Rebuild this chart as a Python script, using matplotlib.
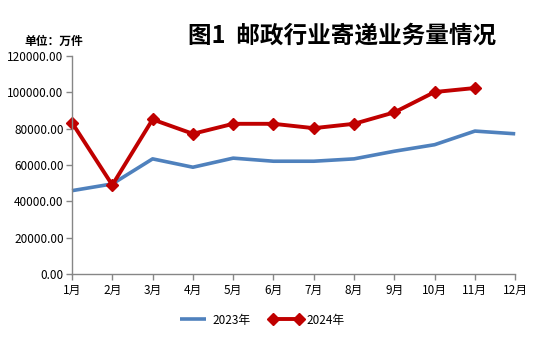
import matplotlib
matplotlib.use("Agg")
import matplotlib.pyplot as plt
from matplotlib.ticker import FuncFormatter

plt.rcParams['font.family'] = ['Noto Sans CJK SC', 'DejaVu Sans']

months = ['1月', '2月', '3月', '4月', '5月', '6月', '7月', '8月', '9月', '10月', '11月', '12月']
y2023 = [45900, 49600, 63400, 58800, 63800, 62100, 62100, 63400, 67600, 71200, 78700, 77200]
y2024 = [83300, 49000, 85100, 77200, 82700, 82700, 80300, 82700, 89000, 100200, 102400]
yticks = [0, 20000, 40000, 60000, 80000, 100000, 120000]

fig = plt.figure(figsize=(5.54, 3.46), dpi=100)
ax = fig.add_axes([0.130, 0.208, 0.800, 0.630])

x23 = list(range(len(y2023)))
x24 = list(range(len(y2024)))
ax.plot(x23, y2023, color='#4F81BD', lw=2.6, label='2023年', solid_capstyle='butt')
ax.plot(x24, y2024, color='#C00000', lw=2.8, marker='D', markersize=6.5,
        markerfacecolor='#C00000', markeredgecolor='#C00000', label='2024年')

ax.set_xlim(0, 11)
ax.set_ylim(0, 120000)
ax.set_xticks(range(len(months)))
ax.set_xticklabels(months)
ax.set_yticks(yticks)
ax.yaxis.set_major_formatter(FuncFormatter(lambda v, p: f'{v:.2f}'))

for s in ['top', 'right']:
    ax.spines[s].set_visible(False)
for s in ['left', 'bottom']:
    ax.spines[s].set_color('#868686')
    ax.spines[s].set_linewidth(1.0)
ax.tick_params(axis='both', colors='#868686', length=4, width=1.0, labelcolor='black', labelsize=8.5)
ax.tick_params(axis='x', pad=3)
ax.tick_params(axis='y', pad=2)
for c in ax.get_children():
    c.set_clip_on(False)

fig.text(0.618, 0.898, '图1  邮政行业寄递业务量情况', ha='center', va='center',
         fontsize=17, fontweight='bold')
fig.text(0.045, 0.88, '单位：万件', ha='left', va='center', fontsize=8.5, fontweight='bold')

leg = fig.legend(loc='center', bbox_to_anchor=(0.47, 0.075), ncol=2, frameon=False,
                 fontsize=8.5, handlelength=2.8, columnspacing=1.6, handletextpad=0.3,
                 numpoints=2)

fig.savefig('out.png', dpi=100)
